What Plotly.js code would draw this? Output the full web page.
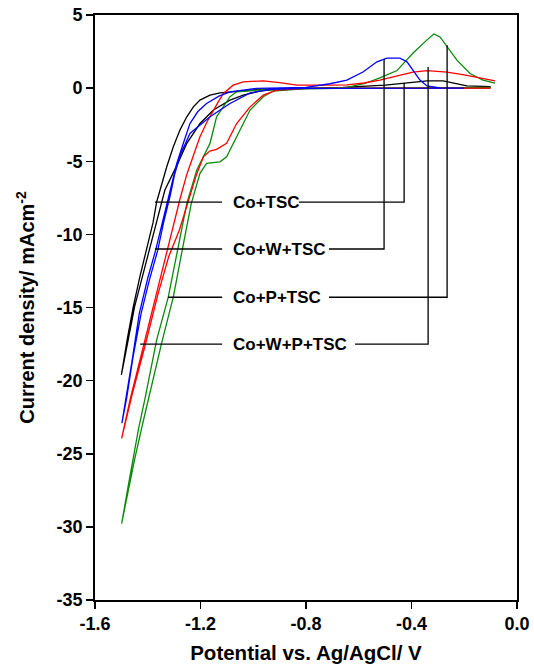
<!DOCTYPE html>
<html>
<head>
<meta charset="utf-8">
<script src="https://cdn.plot.ly/plotly-3.0.1.min.js"></script>
<style>html,body{margin:0;padding:0;background:#fff;}#chart{width:534px;height:668px;}</style>
</head>
<body>
<div id="chart"></div>
<script>
// ---- Data ----
// Co+TSC (black)
const coTscV = [-0.1,-0.3,-0.5,-0.7,-0.9,-0.974,-1.038,-1.088,-1.151,-1.202,-1.252,-1.29,-1.335,-1.365,-1.395,-1.42,-1.45,-1.475,-1.5,
  -1.478,-1.455,-1.43,-1.404,-1.38,-1.366,-1.347,-1.328,-1.303,-1.278,-1.252,-1.227,-1.202,-1.164,-1.126,-1.025,-0.963,-0.9,-0.7,-0.66,-0.5,-0.45,-0.394,-0.34,-0.28,-0.22,-0.19,-0.1];
const coTscI = [0.02,0.02,0.0,-0.02,-0.05,-0.2,-0.48,-0.82,-1.5,-2.42,-3.78,-5.3,-6.97,-9.0,-11.08,-12.9,-14.95,-17.3,-19.6,
  -17.2,-14.95,-12.9,-11.08,-9.2,-7.77,-6.52,-5.38,-4.01,-2.87,-1.96,-1.28,-0.82,-0.48,-0.32,-0.14,-0.07,-0.05,0.0,0.05,0.2,0.3,0.4,0.5,0.5,0.3,0.15,0.1];

// Co+W+TSC (blue)
const coWTscV = [-0.2,-0.5,-0.8,-0.936,-1.012,-1.088,-1.164,-1.24,-1.275,-1.298,-1.316,-1.34,-1.362,-1.395,-1.425,-1.455,-1.48,-1.498,
  -1.482,-1.46,-1.432,-1.40,-1.37,-1.345,-1.328,-1.29,-1.262,-1.24,-1.21,-1.177,-1.13,-1.088,-0.987,-0.85,-0.8,-0.709,-0.645,-0.584,-0.531,-0.493,-0.444,-0.417,-0.394,-0.368,-0.341,-0.292,-0.2];
const coWTscI = [0.0,0.0,-0.02,-0.09,-0.32,-1.05,-1.96,-3.1,-4.5,-5.9,-7.43,-9.2,-11.08,-13.2,-15.4,-18.3,-21.2,-22.9,
  -21.2,-18.7,-15.4,-13.0,-11.08,-9.2,-7.89,-5.15,-3.6,-2.42,-1.6,-1.05,-0.55,-0.25,-0.02,0.0,0.05,0.3,0.55,1.1,1.8,2.05,2.05,1.8,1.2,0.55,0.15,0.02,0.0];

// Co+P+TSC (green)
const coPTscV = [-0.1,-0.5,-0.8,-0.924,-0.962,-1.012,-1.063,-1.101,-1.126,-1.15,-1.177,-1.202,-1.235,-1.26,-1.283,-1.303,-1.347,-1.39,-1.42,-1.45,-1.475,-1.499,
  -1.475,-1.455,-1.435,-1.41,-1.366,-1.322,-1.278,-1.252,-1.214,-1.183,-1.164,-1.139,-1.088,-1.063,-0.987,-0.9,-0.645,-0.58,-0.52,-0.455,-0.394,-0.341,-0.315,-0.292,-0.265,-0.227,-0.178,-0.129,-0.083];
const coPTscI = [0.05,0.0,-0.03,-0.2,-0.59,-1.5,-3.33,-4.7,-5.04,-5.1,-5.15,-5.83,-7.9,-10.2,-12.3,-14.27,-17.4,-20.6,-23.0,-25.4,-27.6,-29.77,
  -27.3,-25.2,-23.3,-21.2,-17.2,-14.27,-10.4,-7.89,-5.6,-4.47,-3.78,-1.96,-0.59,-0.25,-0.14,-0.1,0.05,0.3,0.7,1.2,2.4,3.3,3.7,3.5,2.8,1.9,1.0,0.55,0.35];

// Co+W+P+TSC (red)
const coWPTscV = [-0.1,-0.5,-0.8,-0.911,-0.962,-1.012,-1.063,-1.101,-1.139,-1.165,-1.189,-1.215,-1.24,-1.28,-1.32,-1.36,-1.41,-1.46,-1.499,
  -1.467,-1.42,-1.375,-1.328,-1.30,-1.278,-1.252,-1.225,-1.202,-1.175,-1.151,-1.13,-1.113,-1.076,-1.038,-0.962,-0.9,-0.834,-0.7,-0.645,-0.58,-0.52,-0.45,-0.394,-0.341,-0.265,-0.2,-0.14,-0.083];
const coWPTscI = [0.0,0.0,-0.02,-0.14,-0.48,-1.28,-2.42,-3.78,-4.19,-4.3,-4.7,-5.9,-7.43,-9.7,-11.5,-14.0,-17.6,-21.0,-23.95,
  -21.3,-17.9,-14.6,-11.1,-9.1,-7.6,-5.9,-4.5,-3.33,-2.3,-1.5,-0.85,-0.36,0.2,0.43,0.5,0.38,0.2,0.2,0.22,0.35,0.55,0.85,1.1,1.2,1.1,0.9,0.7,0.5];

// Labels and their leader lines
const labelNames   = ['Co+TSC', 'Co+W+TSC', 'Co+P+TSC', 'Co+W+P+TSC'];
const labelY       = [-7.8, -11.0, -14.3, -17.5];
const leftStartV   = [-1.373, -1.373, -1.323, -1.429];
const leftEndV     = -1.118;
const textLeftV    = -1.084;
const rightStartV  = [-0.827, -0.713, -0.713, -0.614];
const vertV        = [-0.428, -0.504, -0.265, -0.337];
const vertTopI     = [0.34, 1.99, 2.94, 1.44];

// Tick labels
const xTickVals = [-1.6, -1.2, -0.8, -0.4, 0.0];
const xTickText = ['-1.6', '-1.2', '-0.8', '-0.4', '0.0'];
const yTickVals = [5, 0, -5, -10, -15, -20, -25, -30, -35];
const yTickText = ['5', '0', '-5', '-10', '-15', '-20', '-25', '-30', '-35'];

// ---- Traces ----
const FONT = 'Liberation Sans, Arial, Helvetica, sans-serif';
const b = s => '<b>' + s + '</b>';
function tr(x, y, color) {
  return {x: x, y: y, type: 'scatter', mode: 'lines', line: {color: color, width: 1.3}, hoverinfo: 'skip', showlegend: false};
}
const traces = [
  tr(coTscV, coTscI, '#000000'),
  tr(coPTscV, coPTscI, '#0a8a0a'),
  tr(coWPTscV, coWPTscI, '#ff0000'),
  tr(coWTscV, coWTscI, '#0000ff')
];

const shapes = [];
const annotations = [];
for (let i = 0; i < labelNames.length; i++) {
  shapes.push({type: 'line', xref: 'x', yref: 'y', x0: leftStartV[i], x1: leftEndV, y0: labelY[i], y1: labelY[i],
    line: {color: '#000', width: 1.3}});
  shapes.push({type: 'path', xref: 'x', yref: 'y',
    path: 'M ' + rightStartV[i] + ' ' + labelY[i] + ' L ' + vertV[i] + ' ' + labelY[i] + ' L ' + vertV[i] + ' ' + vertTopI[i],
    line: {color: '#000', width: 1.3}});
  annotations.push({x: textLeftV, y: labelY[i], xref: 'x', yref: 'y', text: b(labelNames[i]), showarrow: false,
    xanchor: 'left', yanchor: 'middle', font: {family: FONT, size: 17, color: '#000', weight: 'bold'}});
}

const layout = {
  width: 534, height: 668,
  margin: {l: 95, r: 17, t: 15, b: 68},
  paper_bgcolor: '#fff', plot_bgcolor: '#fff',
  showlegend: false,
  xaxis: {
    range: [-1.6, 0], tickmode: 'array', tickvals: xTickVals, ticktext: xTickText.map(b),
    ticks: 'outside', ticklen: 7, tickwidth: 1.5, tickcolor: '#000',
    showline: true, linecolor: '#000', linewidth: 1.8, mirror: true,
    showgrid: false, zeroline: false,
    tickfont: {family: FONT, size: 18, color: '#000', weight: 'bold'},
    title: {text: b('Potential vs. Ag/AgCl/ V'), font: {family: FONT, size: 20.5, color: '#000', weight: 'bold'}, standoff: 12}
  },
  yaxis: {
    range: [-35, 5], tickmode: 'array', tickvals: yTickVals, ticktext: yTickText.map(b),
    ticks: 'outside', ticklen: 7, tickwidth: 1.5, tickcolor: '#000',
    showline: true, linecolor: '#000', linewidth: 1.8, mirror: true,
    showgrid: false, zeroline: false,
    tickfont: {family: FONT, size: 18, color: '#000', weight: 'bold'},
    title: {text: b('Current density/ mAcm<sup>-2</sup>'), font: {family: FONT, size: 20, color: '#000', weight: 'bold'}, standoff: 16}
  },
  shapes: shapes,
  annotations: annotations
};

Plotly.newPlot('chart', traces, layout, {staticPlot: true, displayModeBar: false});
</script>
</body>
</html>
